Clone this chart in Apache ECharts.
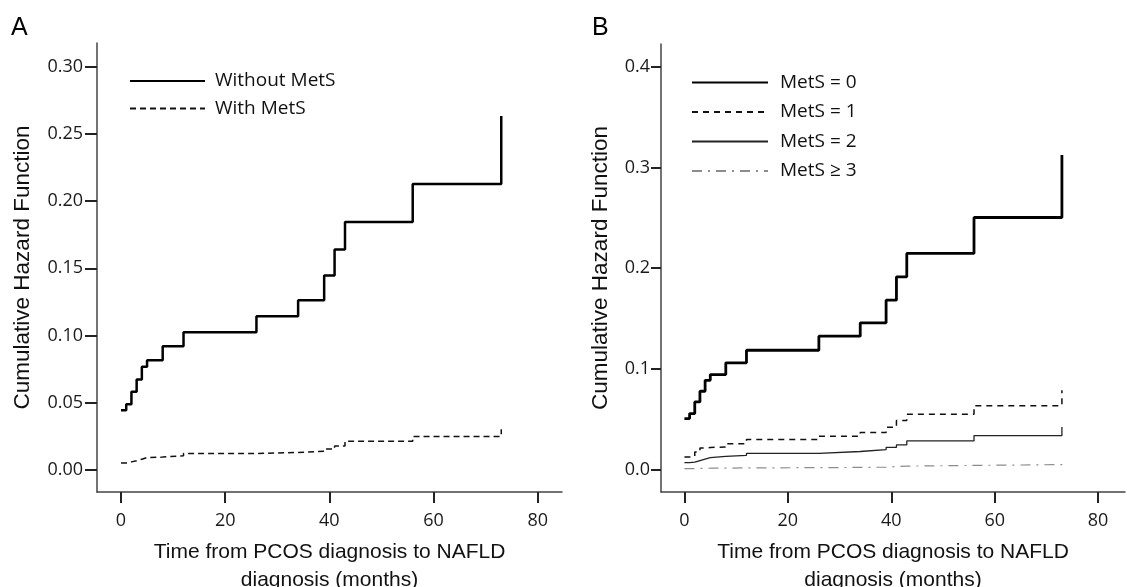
<!DOCTYPE html>
<html>
<head>
<meta charset="utf-8">
<script src="https://cdn.jsdelivr.net/npm/echarts@6/dist/echarts.min.js"></script>
<style>
html,body{margin:0;padding:0;background:#fff;}
#chart{width:1127px;height:587px;}
</style>
</head>
<body>
<div id="chart"></div>
<script>
// ---- Data ----
const timesA = [0, 1, 2, 3, 4, 5, 8, 12, 26, 34, 39, 41, 43, 56, 73];
const withoutMetS = [0.0444, 0.0489, 0.0581, 0.0672, 0.0767, 0.0816, 0.0921, 0.1025, 0.1144, 0.1263, 0.1447, 0.1640, 0.1844, 0.2127, 0.2633];
const withMetS = [0.0052, 0.0060, 0.0068, 0.0080, 0.0092, 0.0096, 0.0106, 0.0122, 0.0130, 0.0140, 0.0155, 0.0178, 0.0214, 0.0248, 0.0303];

const timesB = [0, 1, 2, 3, 4, 5, 8, 12, 26, 34, 39, 41, 43, 56, 73];
const metS0 = [0.0507, 0.0556, 0.0672, 0.0778, 0.0887, 0.0944, 0.1060, 0.1185, 0.1325, 0.1457, 0.1682, 0.1914, 0.2146, 0.2503, 0.3123];
const metS1 = [0.0126, 0.0128, 0.0175, 0.0215, 0.0220, 0.0225, 0.0258, 0.0298, 0.0331, 0.0368, 0.0420, 0.0487, 0.0550, 0.0635, 0.0788];
const metS2 = [0.0070, 0.0074, 0.0090, 0.0105, 0.0119, 0.0132, 0.0142, 0.0162, 0.0180, 0.0198, 0.0220, 0.0245, 0.0285, 0.0338, 0.0424];
const metS3 = [0.0010, 0.0011, 0.0012, 0.0013, 0.0014, 0.0015, 0.0017, 0.0020, 0.0022, 0.0025, 0.0030, 0.0035, 0.0042, 0.0050, 0.0058];

const xTicks = [0, 20, 40, 60, 80];
const yTicksA = [0, 0.05, 0.10, 0.15, 0.20, 0.25, 0.30];
const yTicksB = [0, 0.1, 0.2, 0.3, 0.4];

const namesA = ['Without MetS', 'With MetS'];
const namesB = ['MetS = 0', 'MetS = 1', 'MetS = 2', 'MetS \u2265 3'];
const xTitle = 'Time from PCOS diagnosis to NAFLD\ndiagnosis (months)';
const yTitle = 'Cumulative Hazard Function';

// ---- helpers ----
const pairs = (t, v) => t.map((x, i) => [x, v[i]]);
const tickFont = {fontFamily: 'Open Sans', fontSize: 18, color: '#1a1a1a'};
const xTitleFont = {fontFamily: 'Liberation Sans', fontSize: 21, color: '#111', lineHeight: 28};
const yTitleFont = {fontFamily: 'Liberation Sans', fontSize: 22.5, color: '#111'};

function xAxisCfg(gridIndex, min, max) {
  return {
    type: 'value', gridIndex, min, max,
    name: xTitle, nameLocation: 'middle', nameGap: 46, nameTextStyle: xTitleFont,
    axisLine: {show: true, onZero: false, lineStyle: {color: '#444', width: 1.5}},
    axisTick: {show: true, customValues: xTicks, length: 11, lineStyle: {color: '#222', width: 2}},
    axisLabel: {show: true, customValues: xTicks, margin: 20, ...tickFont},
    splitLine: {show: false}
  };
}
function yAxisCfg(gridIndex, min, max, ticks, dec, gap, tickLen, margin) {
  return {
    type: 'value', gridIndex, min, max,
    name: yTitle, nameLocation: 'middle', nameGap: gap, nameTextStyle: yTitleFont,
    axisLine: {show: true, onZero: false, lineStyle: {color: '#444', width: 1.5}},
    axisTick: {show: true, customValues: ticks, length: tickLen, lineStyle: {color: '#222', width: 2}},
    axisLabel: {show: true, customValues: ticks, margin, formatter: v => v.toFixed(dec), ...tickFont},
    splitLine: {show: false}
  };
}
function stepSeries(name, xi, yi, t, v, lineStyle) {
  return {
    name, type: 'line', xAxisIndex: xi, yAxisIndex: yi, step: 'end',
    data: pairs(t, v), symbol: 'none', showSymbol: false, lineStyle,
    itemStyle: {color: lineStyle.color}, emphasis: {disabled: true}, z: 3
  };
}

const chart = echarts.init(document.getElementById('chart'), null, {renderer: 'canvas'});
chart.setOption({
  animation: false,
  backgroundColor: '#fff',
  grid: [
    {left: 97, top: 43, width: 465, height: 449, containLabel: false, outerBoundsMode: 'none'},
    {left: 661, top: 44, width: 464, height: 448, containLabel: false, outerBoundsMode: 'none'}
  ],
  xAxis: [xAxisCfg(0, -4.61, 84.66), xAxisCfg(1, -4.53, 85.2)],
  yAxis: [
    yAxisCfg(0, -0.0164, 0.3176, yTicksA, 2, 63, 12, 14),
    yAxisCfg(1, -0.0222, 0.4225, yTicksB, 1, 49, 10, 11)
  ],
  legend: [
    {
      data: namesA, orient: 'vertical', left: 129, top: 71, padding: 0,
      itemWidth: 75, itemHeight: 14, itemGap: 7.6,
      itemStyle: {opacity: 0, borderWidth: 0},
      textStyle: {fontFamily: 'Open Sans', fontSize: 19, color: '#111', lineHeight: 20, padding: [0, 0, 0, 5]},
      selectedMode: false
    },
    {
      data: namesB, orient: 'vertical', left: 691, top: 72.5, padding: 0,
      itemWidth: 76, itemHeight: 14, itemGap: 9.5,
      itemStyle: {opacity: 0, borderWidth: 0},
      textStyle: {fontFamily: 'Open Sans', fontSize: 19, color: '#111', lineHeight: 20, padding: [0, 0, 0, 7]},
      selectedMode: false
    }
  ],
  graphic: [
    {type: 'text', left: 11, top: 16, style: {text: 'A', font: '25px "Liberation Sans"', fill: '#000'}},
    {type: 'text', left: 592, top: 16, style: {text: 'B', font: '25px "Liberation Sans"', fill: '#000'}}
  ],
  series: [
    stepSeries(namesA[0], 0, 0, timesA, withoutMetS, {color: '#000', width: 2.5, type: 'solid'}),
    stepSeries(namesA[1], 0, 0, timesA, withMetS, {color: '#111', width: 1.5, type: [6, 4]}),
    stepSeries(namesB[0], 1, 1, timesB, metS0, {color: '#000', width: 2.8, type: 'solid'}),
    stepSeries(namesB[1], 1, 1, timesB, metS1, {color: '#111', width: 1.5, type: [6, 5]}),
    stepSeries(namesB[2], 1, 1, timesB, metS2, {color: '#222', width: 1.3, type: 'solid'}),
    stepSeries(namesB[3], 1, 1, timesB, metS3, {color: '#8c8c8c', width: 1.2, type: [10, 6, 2, 6]})
  ]
});
</script>
</body>
</html>
